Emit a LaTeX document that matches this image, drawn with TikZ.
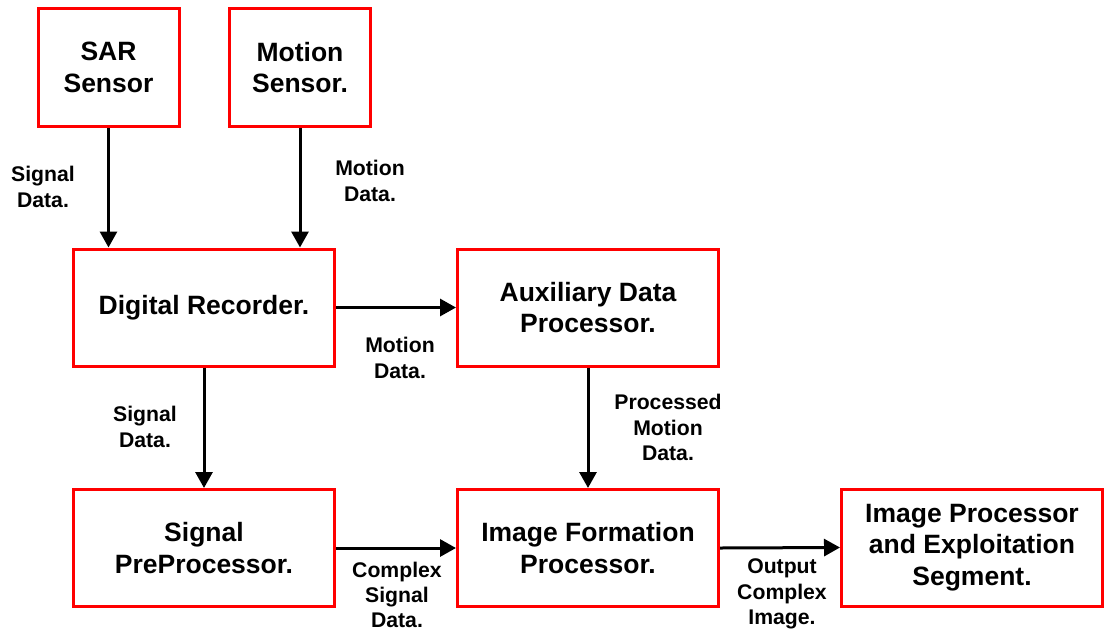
\documentclass[tikz,border=0pt]{standalone}
\usepackage{fontspec}
\setmainfont{Liberation Sans}
\usetikzlibrary{arrows.meta}
\begin{document}
\begin{tikzpicture}[x=1pt,y=-1pt,
  block/.style={draw=red, line width=3pt, minimum width=261pt, minimum height=117pt,
    inner sep=0pt, align=center, font=\fontsize{26.5}{31.8}\selectfont\bfseries},
  sensor/.style={block, minimum width=141pt, minimum height=118pt},
  lbl/.style={align=center, inner sep=0pt, font=\fontsize{21.2}{25.4}\selectfont\bfseries},
  flow/.style={line width=3pt, -{Triangle[length=16pt,width=17pt]}}]
\useasboundingbox (0,0) rectangle (1110,635);

% processing blocks
\node[sensor] (sar) at (108.5,67.5) {SAR\\Sensor};
\node[sensor] (mot) at (300,67.5) {Motion\\Sensor.};
\node[block] (dr)  at (204,307.5) {Digital Recorder.};
\node[block] (aux) at (588,307.5) {Auxiliary Data\\Processor.};
\node[block] (spp) at (204,548) {Signal\\PreProcessor.};
\node[block] (ifp) at (588,548) {Image Formation\\Processor.};
\node[block] (ipe) at (972,547.5) {Image Processor\\and Exploitation\\Segment.};

% data flows
\draw[flow] (sar.south) -- (sar.south |- dr.north);
\draw[flow] (mot.south) -- (mot.south |- dr.north);
\draw[flow] (dr.east) -- (aux.west);
\draw[flow] (dr.south) -- (spp.north);
\draw[flow] (aux.south) -- (ifp.north);
\draw[flow] (spp.east) -- (ifp.west);
\draw[flow] (ifp.east) -- (ipe.west);

% flow labels
\node[lbl] (l1) at (43,187) {Signal\\Data.};
\node[lbl] (l2) at (370,181) {Motion\\Data.};
\node[lbl] (l3) at (400,358) {Motion\\Data.};
\node[lbl] (l4) at (145,427) {Signal\\Data.};
\node[lbl] (l5) at (668,427.5) {Processed\\Motion\\Data.};
\node[lbl] (l6) at (397,595) {Complex\\Signal\\Data.};
\node[lbl] (l7) at (782,594) {Output\\Complex\\Image.};
\end{tikzpicture}
\end{document}
